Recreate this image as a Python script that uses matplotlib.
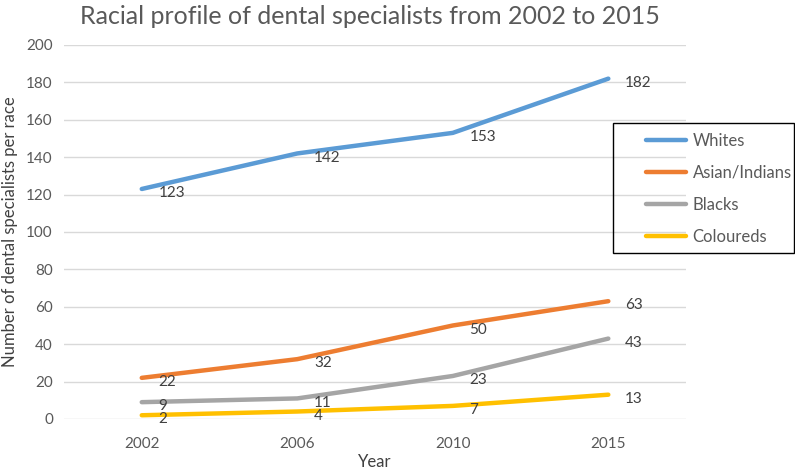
import numpy as np
import matplotlib.pyplot as plt
from matplotlib.patches import Rectangle

plt.rcParams['font.family'] = ['Lato', 'DejaVu Sans']

years = ["2002", "2006", "2010", "2015"]
whites = [123, 142, 153, 182]
asian_indians = [22, 32, 50, 63]
blacks = [9, 11, 23, 43]
coloureds = [2, 4, 7, 13]

series = [
    ("Whites", whites, "#5B9BD5"),
    ("Asian/Indians", asian_indians, "#ED7D31"),
    ("Blacks", blacks, "#A5A5A5"),
    ("Coloureds", coloureds, "#FFC000"),
]

fig = plt.figure(figsize=(7.95, 4.72), dpi=100)
ax = fig.add_axes([0.0805, 0.1123, 0.7825, 0.7924])

x = np.arange(len(years))
for name, vals, col in series:
    ax.plot(x, vals, color=col, lw=3.2, label=name, solid_capstyle='round',
            solid_joinstyle='round')
    for xi, v in zip(x, vals):
        ax.annotate(str(v), (xi, v), xytext=(12, -3), textcoords='offset points',
                    ha='left', va='center', fontsize=11, color='#404040')

ax.set_xlim(-0.5, 3.5)
ax.set_ylim(0, 200)
ax.set_yticks(range(0, 201, 20))
ax.set_xticks(x)
ax.set_xticklabels(years)
ax.grid(axis='y', color='#d9d9d9', lw=1)
ax.set_axisbelow(True)
for s in ax.spines.values():
    s.set_visible(False)
ax.tick_params(length=0, labelsize=11, labelcolor='#595959', pad=8)
ax.tick_params(axis='x', pad=13)

ax.set_xlabel("Year", fontsize=12, color='#404040', labelpad=2)
ax.set_ylabel("Number of dental specialists per race", fontsize=12, color='#404040', labelpad=6)
fig.text(0.465, 0.966, "Racial profile of dental specialists from 2002 to 2015",
         ha='center', va='center', fontsize=18, color='#595959')

# legend box
fig.patches.append(Rectangle((613 / 795, 1 - 253 / 472), 181 / 795, 130 / 472,
                             transform=fig.transFigure, fill=False,
                             edgecolor='black', lw=1))
leg = ax.legend(loc='upper left', bbox_to_anchor=(646 / 795, 1 - 133 / 472),
                bbox_transform=fig.transFigure, frameon=False, fontsize=12,
                handlelength=2.4, handletextpad=0.4, labelspacing=0.95,
                borderpad=0, borderaxespad=0, labelcolor='#595959')

fig.savefig("out.png", dpi=100)
